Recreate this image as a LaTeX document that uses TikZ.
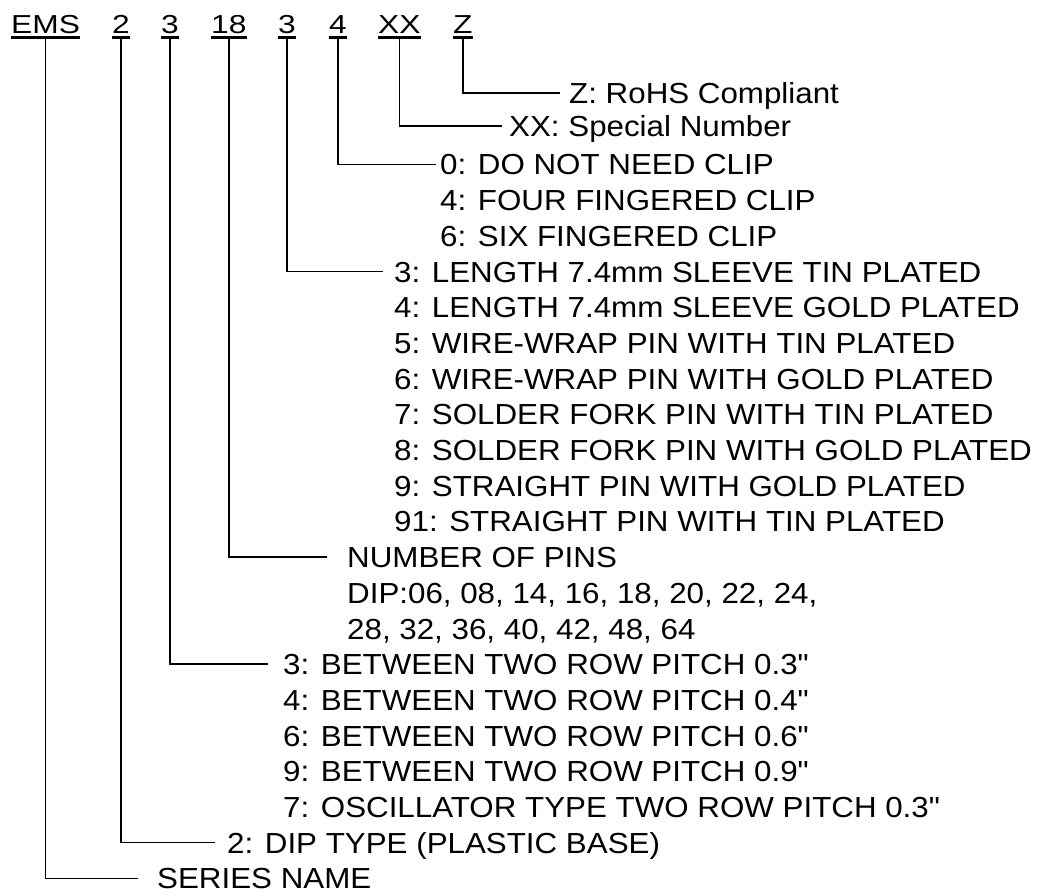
\documentclass[tikz,border=0pt]{standalone}
\usepackage{fontspec}
\setmainfont{Liberation Sans}
\newfontfamily\listfont[FakeStretch=1.08,Ligatures=TeXOff]{Liberation Sans}
\newfontfamily\codefont[FakeStretch=1.22]{Liberation Sans}
\begin{document}
\begin{tikzpicture}[x=1pt,y=-1pt,
  code/.style={inner sep=0pt, anchor=base west, font=\codefont\fontsize{26}{26}\selectfont},
  item/.style={inner sep=0pt, anchor=west, text height=21pt, text depth=0pt, font=\listfont\fontsize{29}{29}\selectfont},
  conn/.style={line width=1.5pt},
  uline/.style={line width=2.5pt}]
\fill[white] (0,0) rectangle (1046,895);
\useasboundingbox (0,0) rectangle (1046,895);

% code parts
\node[code] (ems) at (11,33) {EMS};
\node[code] (c2) at (112,33) {2};
\node[code] (c3a) at (161,33) {3};
\node[code] (c18) at (211,33) {18};
\node[code] (c3b) at (278,33) {3};
\node[code] (c4) at (329,33) {4};
\node[code] (cxx) at (378,33) {XX};
\node[code] (cz) at (453,33) {Z};
\foreach \n in {ems,c2,c3a,c18,c3b,c4,cxx,cz}
  \draw[uline] ([yshift=-4.5pt]\n.base west) -- ([yshift=-4.5pt]\n.base east);

% descriptions
\node[item] (tz) at (569,93) {Z: RoHS Compliant};
\node[item] (txx) at (509,126) {XX: Special Number};
\node[item] (t0) at (440,164.4) {0: DO NOT NEED CLIP};
\node[item] (t4) at (440,200.1) {4: FOUR FINGERED CLIP};
\node[item] (t6) at (440,235.8) {6: SIX FINGERED CLIP};
\node[item] (l3) at (394,271.5) {3: LENGTH 7.4mm SLEEVE TIN PLATED};
\node[item] (l4) at (394,307.2) {4: LENGTH 7.4mm SLEEVE GOLD PLATED};
\node[item] (l5) at (394,342.9) {5: WIRE-WRAP PIN WITH TIN PLATED};
\node[item] (l6) at (394,378.6) {6: WIRE-WRAP PIN WITH GOLD PLATED};
\node[item] (l7) at (394,414.3) {7: SOLDER FORK PIN WITH TIN PLATED};
\node[item] (l8) at (394,450.0) {8: SOLDER FORK PIN WITH GOLD PLATED};
\node[item] (l9) at (394,485.7) {9: STRAIGHT PIN WITH GOLD PLATED};
\node[item] (l91) at (394,521.4) {91: STRAIGHT PIN WITH TIN PLATED};
\node[item] (np) at (347,557.1) {NUMBER OF PINS};
\node[item] (dip1) at (347,592.8) {DIP:06, 08, 14, 16, 18, 20, 22, 24,};
\node[item] (dip2) at (347,628.5) {28, 32, 36, 40, 42, 48, 64};
\node[item] (b3) at (283,664.2) {3: BETWEEN TWO ROW PITCH 0.3"};
\node[item] (b4) at (283,699.9) {4: BETWEEN TWO ROW PITCH 0.4"};
\node[item] (b6) at (283,735.6) {6: BETWEEN TWO ROW PITCH 0.6"};
\node[item] (b9) at (283,771.3) {9: BETWEEN TWO ROW PITCH 0.9"};
\node[item] (b7) at (283,807.0) {7: OSCILLATOR TYPE TWO ROW PITCH 0.3"};
\node[item] (dt) at (227,842.7) {2: DIP TYPE (PLASTIC BASE)};
\node[item] (sn) at (157,878.4) {SERIES NAME};

% connectors
\draw[conn] ([yshift=-4.5pt]cz.base) |- ([xshift=-9pt]tz.west);
\draw[conn] ([yshift=-4.5pt]cxx.base) |- ([xshift=-7pt]txx.west);
\draw[conn] ([yshift=-4.5pt]c4.base) |- ([xshift=-4pt]t0.west);
\draw[conn] ([yshift=-4.5pt]c3b.base) |- ([xshift=-11pt]l3.west);
\draw[conn] ([yshift=-4.5pt]c18.base) |- ([xshift=-20pt]np.west);
\draw[conn] ([yshift=-4.5pt]c3a.base) |- ([xshift=-15pt]b3.west);
\draw[conn] ([yshift=-4.5pt]c2.base) |- ([xshift=-12pt]dt.west);
\draw[conn] ([yshift=-4.5pt]ems.base) |- ([xshift=-19pt]sn.west);
\end{tikzpicture}
\end{document}
